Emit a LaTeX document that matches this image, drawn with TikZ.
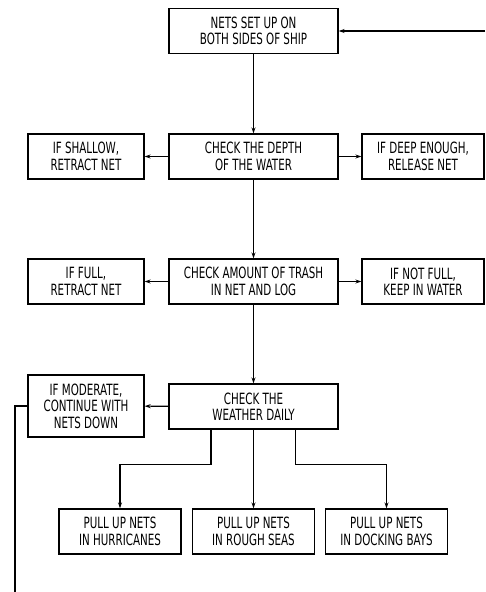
\documentclass[tikz,border=0pt]{standalone}
\usepackage{fontspec}
\setmainfont[FakeStretch=0.74]{DejaVu Sans Condensed}
\usetikzlibrary{arrows.meta}
\begin{document}
\begin{tikzpicture}[x=1pt,y=-1pt,
  box/.style={draw,line width=1.3pt,align=center,inner sep=0pt,font=\fontsize{15.5}{16.5}\selectfont},
  b169/.style={box,minimum width=169pt,minimum height=45pt},
  b116/.style={box,minimum width=116pt,minimum height=45pt},
  b122/.style={box,minimum width=122pt,minimum height=45pt},
  arr/.style={line width=1.1pt,-{Stealth[length=6pt,width=4pt]}},
  ln/.style={line width=1.1pt}]
\useasboundingbox (0,0) rectangle (485,592);
\node[b169] (top) at (253.5,31) {NETS SET UP ON\\BOTH SIDES OF SHIP};
\node[b116] (dl) at (86,156.5) {IF SHALLOW,\\RETRACT NET};
\node[b169] (dc) at (253.5,156.5) {CHECK THE DEPTH\\OF THE WATER};
\node[b122] (dr) at (423,156.5) {IF DEEP ENOUGH,\\RELEASE NET};
\node[b116] (tl) at (86,281.5) {IF FULL,\\RETRACT NET};
\node[b169] (tc) at (253.5,281.5) {CHECK AMOUNT OF TRASH\\IN NET AND LOG};
\node[b122] (tr) at (423,281.5) {IF NOT FULL,\\KEEP IN WATER};
\node[box,minimum width=116pt,minimum height=62pt] (wm) at (86,406) {IF MODERATE,\\CONTINUE WITH\\NETS DOWN};
\node[b169] (wc) at (253.5,406.5) {CHECK THE\\WEATHER DAILY};
\node[b122] (b1) at (120,531.5) {PULL UP NETS\\IN HURRICANES};
\node[b122] (b2) at (253.5,531.5) {PULL UP NETS\\IN ROUGH SEAS};
\node[b122] (b3) at (386.5,531.5) {PULL UP NETS\\IN DOCKING BAYS};
\coordinate (loopin) at (485,31);
\coordinate (loopout) at (15,592);
\draw[arr] (loopin) -- (top);
\draw[arr] (top) -- (dc);
\draw[arr] (dc) -- (dl);
\draw[arr] (dc) -- (dr);
\draw[arr] (dc) -- (tc);
\draw[arr] (tc) -- (tl);
\draw[arr] (tc) -- (tr);
\draw[arr] (tc) -- (wc);
\draw[arr] (wc) -- (wm);
\draw[arr] ([xshift=-42.5pt]wc.south) -- ++(0,35) -| (b1);
\draw[arr] (wc) -- (b2);
\draw[arr] ([xshift=42pt]wc.south) -- ++(0,35) -| (b3);
\draw[ln] (wm.west) -| (loopout);
\end{tikzpicture}
\end{document}
